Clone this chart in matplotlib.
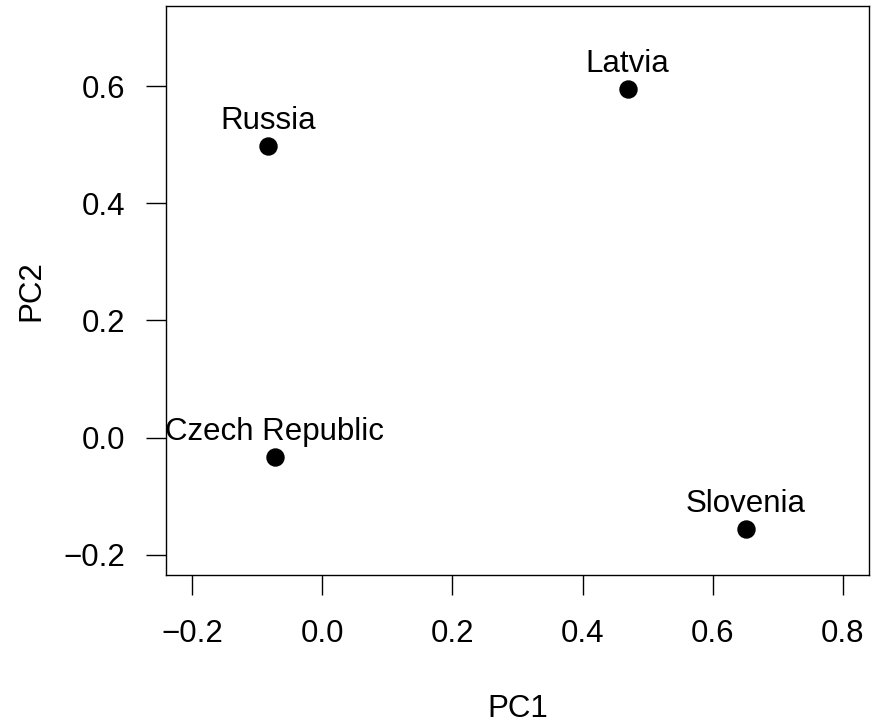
import matplotlib
matplotlib.use("Agg")
import matplotlib.pyplot as plt

# PCA scores
countries = ["Russia", "Latvia", "Czech Republic", "Slovenia"]
pc1 = [-0.083, 0.469, -0.073, 0.651]
pc2 = [0.497, 0.595, -0.034, -0.156]

x_ticks = [-0.2, 0.0, 0.2, 0.4, 0.6, 0.8]
y_ticks = [-0.2, 0.0, 0.2, 0.4, 0.6]

plt.rcParams["font.family"] = ["Liberation Sans", "DejaVu Sans"]
plt.rcParams["axes.unicode_minus"] = True

W, H = 871, 728
fig = plt.figure(figsize=(W / 100, H / 100), dpi=100)
left, right, top, bottom = 166, 869, 6, 574.5
ax = fig.add_axes([left / W, 1 - bottom / H, (right - left) / W, (bottom - top) / H])

ax.scatter(pc1, pc2, s=150, color="black", zorder=3)
for name, x, y in zip(countries, pc1, pc2):
    ax.annotate(name, (x, y), xytext=(0, 17), textcoords="offset pixels",
                ha="center", va="baseline", fontsize=22.5)

ax.set_xlim(-0.240, 0.840)
ax.set_ylim(-0.2339, 0.7367)
ax.set_xticks(x_ticks)
ax.set_yticks(y_ticks)
ax.set_xticklabels([f"{v:.1f}".replace("-", "\u2212") for v in x_ticks])
ax.set_yticklabels([f"{v:.1f}".replace("-", "\u2212") for v in y_ticks])
ax.tick_params(length=14.3, width=1.0, labelsize=22.5, direction="out")
ax.tick_params(axis="x", pad=18)
ax.tick_params(axis="y", pad=15)
for sp in ax.spines.values():
    sp.set_linewidth(1.0)

fig.text(0.5 * (left + right) / W, 1 - 709 / H, "PC1", ha="center", va="center", fontsize=22.5)
fig.text(31.5 / W, 1 - 0.5 * (top + bottom) / H, "PC2", ha="center", va="center",
         rotation=90, fontsize=22.5)

fig.savefig("out.png", dpi=100)
